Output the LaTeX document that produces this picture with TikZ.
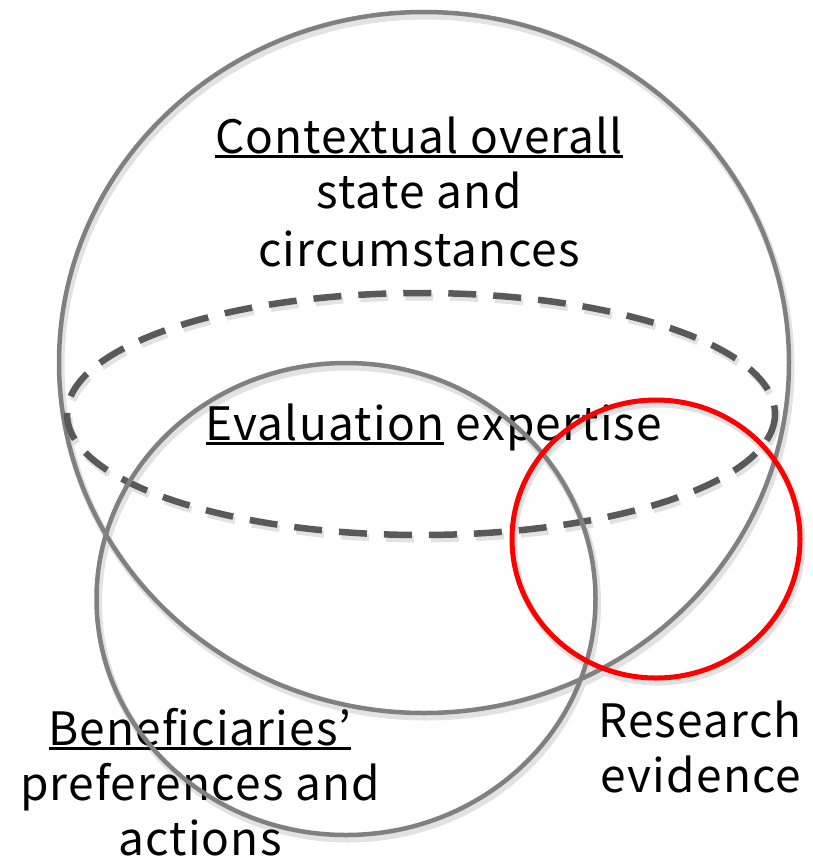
\documentclass[tikz,border=0pt]{standalone}
\usepackage{fontspec}
\setmainfont[LetterSpace=2.6]{Noto Sans CJK JP}
\newcommand{\ulx}[1]{\setbox0\hbox{#1}\rlap{\rule[-5pt]{\wd0}{2.6pt}}\box0\relax}
\definecolor{cgray}{RGB}{128,128,128}
\definecolor{dgray}{RGB}{89,89,89}
\definecolor{cred}{RGB}{255,0,0}
\definecolor{shade}{RGB}{226,226,226}
\begin{document}
\begin{tikzpicture}[x=1pt,y=-1pt,
  lbl/.style={anchor=base,inner sep=0pt,font=\fontsize{46}{54}\selectfont},
  ring/.style={draw=cgray,line width=4.5pt},
  redring/.style={draw=cred,line width=5pt},
  dashring/.style={draw=dgray,line width=6.5pt,dash pattern=on 28pt off 17pt},
  shadowring/.style={draw=shade,line width=7pt}]
\useasboundingbox (0,0) rectangle (813,863);
% shadows
\begin{scope}[shift={(2,4)}]
\draw[shadowring] (424,362.5) ellipse [x radius=365, y radius=350.5];
\draw[shadowring,dash pattern=on 28pt off 17pt] (421,414) ellipse [x radius=354, y radius=121];
\draw[shadowring] (346,599) ellipse [x radius=249.5, y radius=236];
\draw[shadowring] (656,539) ellipse [x radius=144, y radius=139];
\end{scope}
% labels
\node[lbl] (c1) at (419,153) {\ulx{Contextual overall}};
\node[lbl] (c2) at (419,208) {state and};
\node[lbl] (c3) at (419,266) {circumstances};
\node[lbl] (e1) at (434,440) {\ulx{Evaluation} expertise};
\node[lbl] (b1) at (200,745) {\ulx{Beneficiaries’}};
\node[lbl] (b2) at (200,800) {preferences and};
\node[lbl] (b3) at (200,855) {actions};
\node[lbl] (r1) at (700,737) {Research};
\node[lbl] (r2) at (701,792) {evidence};
% shapes
\draw[ring] (424,362.5) ellipse [x radius=365, y radius=350.5];
\draw[dashring] (421,414) ellipse [x radius=354, y radius=121];
\draw[ring] (346,599) ellipse [x radius=249.5, y radius=236];
\draw[redring] (656,539) ellipse [x radius=144, y radius=139];
\end{tikzpicture}
\end{document}
